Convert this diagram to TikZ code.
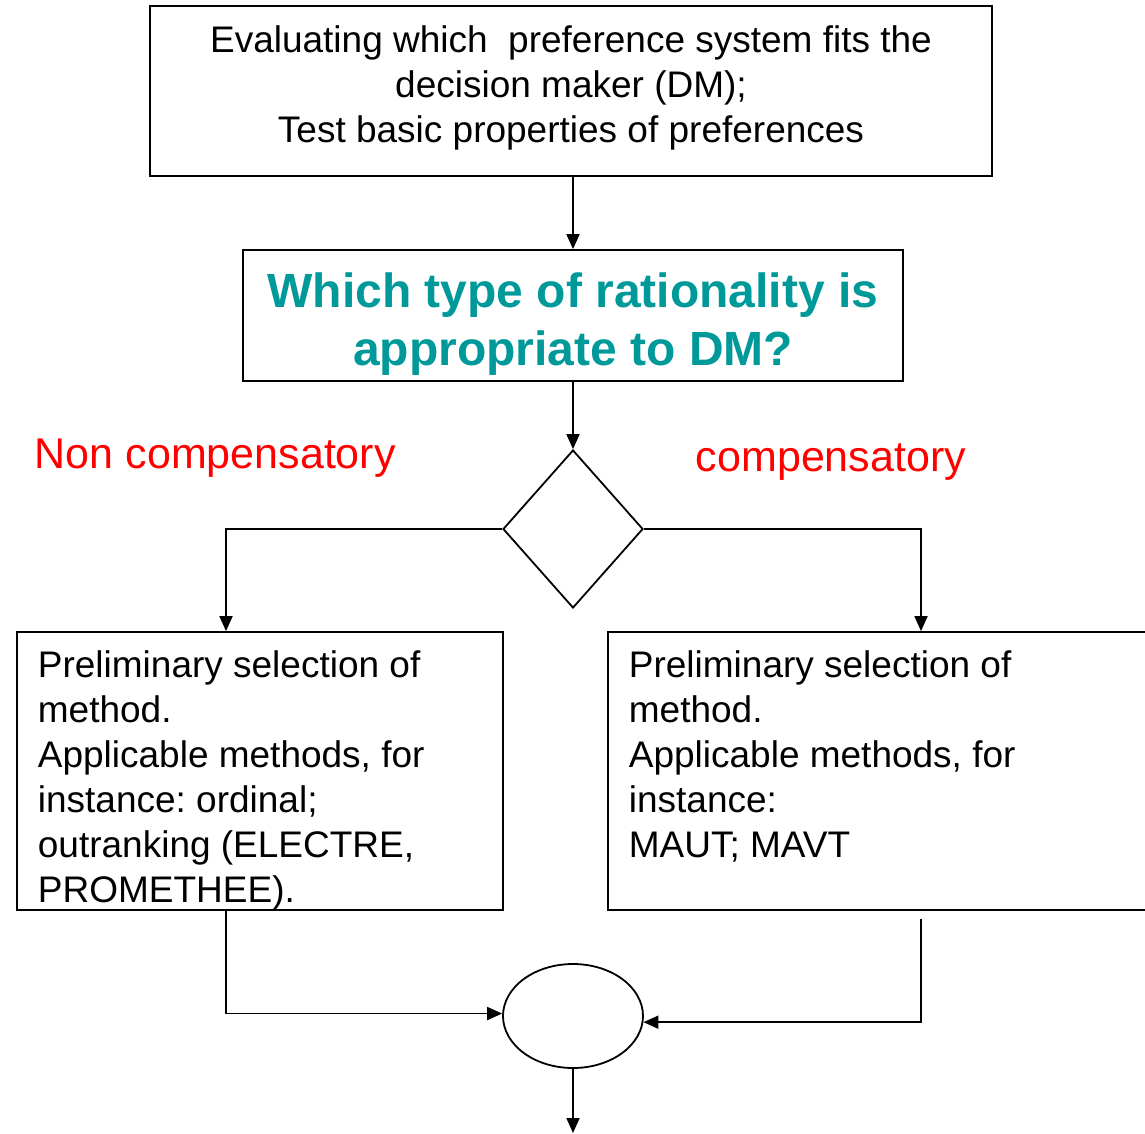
\documentclass[tikz,border=0pt]{standalone}
\usepackage{fontspec}
\setmainfont{Liberation Sans}
\usetikzlibrary{shapes.geometric,arrows.meta}
\definecolor{tealtext}{RGB}{0,153,153}
\definecolor{redtext}{RGB}{255,0,0}
\frenchspacing
\begin{document}
\begin{tikzpicture}[x=1pt,y=-1pt,
  line width=1.8pt,
  box/.style={draw, rectangle, inner sep=0pt},
  bodytext/.style={inner sep=0pt, font=\fontsize{37}{44.6}\selectfont},
  methodtext/.style={inner sep=0pt, font=\fontsize{37}{45}\selectfont},
  flow/.style={-{Triangle[length=15pt,width=13pt]}},
  branchlabel/.style={inner sep=0pt, text=redtext, font=\fontsize{43}{50}\selectfont}]
\useasboundingbox (0,0) rectangle (1145,1133);

% boxes and decision shapes
\node[box, minimum width=842pt, minimum height=170pt] (top) at (571,91) {};
\node[box, minimum width=660pt, minimum height=131pt] (q) at (573,315.5) {};
\node[draw, diamond, inner sep=0pt, minimum width=140pt, minimum height=158pt] (dia) at (573,529) {};
\node[box, minimum width=486pt, minimum height=278pt] (lb) at (260,771) {};
\node[box, minimum width=542pt, minimum height=278pt] (rb) at (879,771) {};
\node[draw, ellipse, inner sep=0pt, minimum width=140pt, minimum height=104pt] (ell) at (573,1016) {};
\coordinate (exit) at (573,1133);

% texts
\node[bodytext, align=center] (toptext) at (571,88)
  {Evaluating which\ \ preference system fits the\\ decision maker (DM);\\ Test basic properties of preferences};
\node[inner sep=0pt, align=center, text=tealtext,
      font=\bfseries\fontsize{48}{58}\selectfont] (qtext) at (573,324.5)
  {Which type of rationality is\\ appropriate to DM?};
\node[branchlabel, anchor=base west] (noncomp) at (34,468) {Non compensatory};
\node[branchlabel, anchor=base west] (comp) at (695,471) {compensatory};
\node[methodtext, align=left, anchor=north west] (lbtext) at (37,650)
  {Preliminary selection of\\ method.\\ Applicable methods, for\\ instance: ordinal;\\ outranking (ELECTRE,\\ PROMETHEE).};
\node[methodtext, align=left, anchor=north west] (rbtext) at (628,650)
  {Preliminary selection of\\ method.\\ Applicable methods, for\\ instance:\\ MAUT; MAVT};

% connectors
\draw[flow] (top.south -| q.north) -- (q.north);
\draw[flow] (q.south) -- (dia.north);
\draw[flow] (dia.west) -| ([xshift=-34pt]lb.north);
\draw[flow] (dia.east) -| ([xshift=42pt]rb.north);
\draw[flow] ([xshift=-34pt]lb.south) |- (ell.178);
\draw[flow] ([xshift=42pt,yshift=-8pt]rb.south) |- (ell.-5);
\draw[flow] (ell.south) -- (exit);
\end{tikzpicture}
\end{document}
